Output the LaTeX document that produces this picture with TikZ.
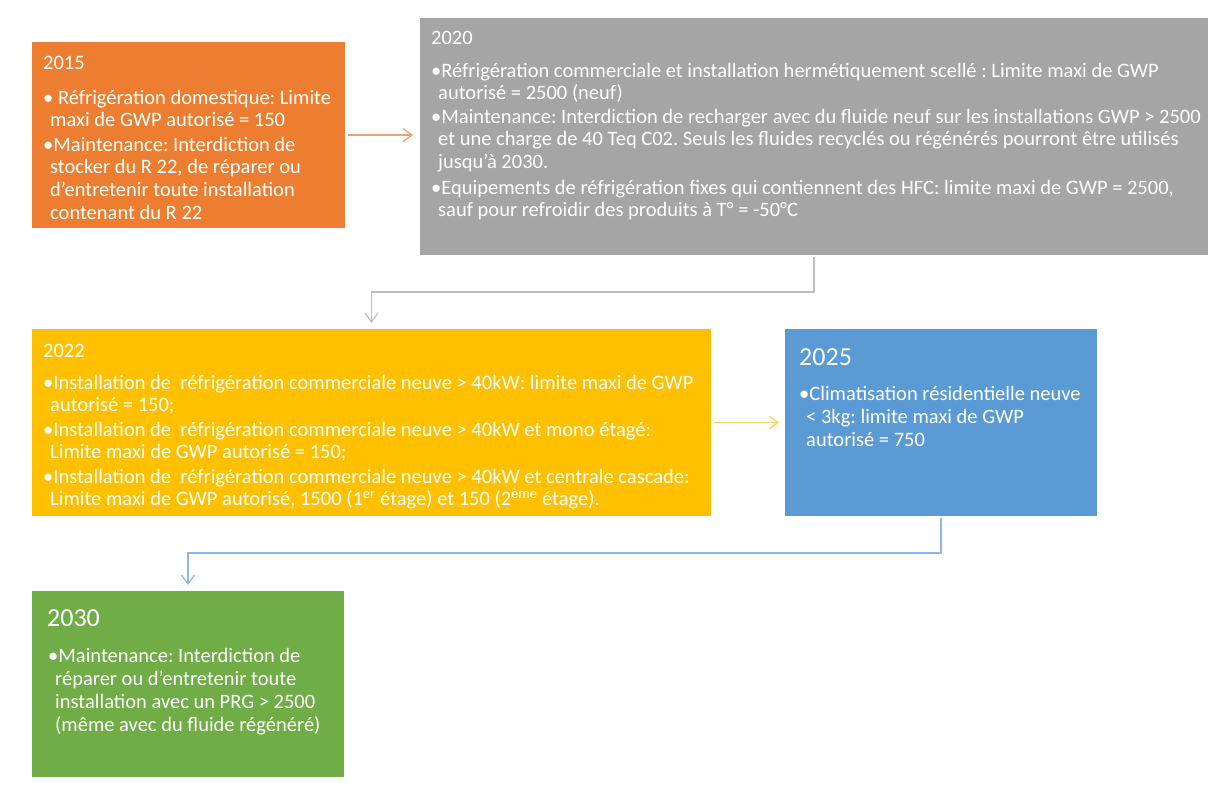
\documentclass[tikz,border=0pt]{standalone}
\usepackage{fontspec}
\setmainfont{Carlito}
\usetikzlibrary{arrows.meta}
\definecolor{corange}{HTML}{ED7D31}
\definecolor{cgray}{HTML}{A5A5A5}
\definecolor{cyellow}{HTML}{FFC000}
\definecolor{cblue}{HTML}{5B9BD5}
\definecolor{cgreen}{HTML}{70AD47}
\definecolor{lorange}{HTML}{F4A06A}
\definecolor{lgray}{HTML}{BDBDBD}
\definecolor{lyellow}{HTML}{FFD45C}
\definecolor{lblue}{HTML}{8DB8E2}
\newcommand\mybody{\fontsize{20.5}{22.7}\selectfont\frenchspacing}
\newcommand\mybodyb{\fontsize{20.5}{23}\selectfont\frenchspacing}
\newcommand\mytitle{\fontsize{26}{28}\selectfont}
\newcommand\tstrut{\rule{0pt}{20pt}}
\newcommand\bstrut{\rule{0pt}{26pt}}
\newcommand\cont{\hspace*{7pt}}
\begin{document}
\begin{tikzpicture}[x=1pt,y=-1pt,
  box/.style={draw=none, inner sep=0pt, outer sep=0pt, anchor=north west},
  txt/.style={anchor=north west, inner sep=0pt, align=left, text=white, font=\mybody},
  txtb/.style={txt, font=\mybodyb},
  bigttl/.style={anchor=north west, inner sep=0pt, text=white, font=\mytitle},
  conn/.style={line width=1.2pt, -{Straight Barb[length=9pt,width=13pt,line width=1.2pt]}}
]
\useasboundingbox[fill=white] (0,0) rectangle (1228,803);

% boxes
\node[box, fill=corange, minimum width=313pt, minimum height=186pt] (b2015) at (32,42) {};
\node[box, fill=cgray, minimum width=788pt, minimum height=237pt] (b2020) at (420,18) {};
\node[box, fill=cyellow, minimum width=679pt, minimum height=187pt] (b2022) at (32,329) {};
\node[box, fill=cblue, minimum width=312pt, minimum height=187pt] (b2025) at (785,329) {};
\node[box, fill=cgreen, minimum width=312pt, minimum height=186pt] (b2030) at (32,591) {};

% 2015
\node[txt] (t2015) at (43,49) {\tstrut 2015};
\node[txt] (p2015a) at (43,84) {\tstrut• Réfrigération domestique: Limite\\\cont maxi de GWP autorisé = 150};
\node[txt] (p2015b) at (43,131) {\tstrut•Maintenance: Interdiction de\\\cont stocker du R 22, de réparer ou\\\cont d’entretenir toute installation\\\cont contenant du R 22};

% 2020
\node[txt] (t2020) at (431,24) {\tstrut 2020};
\node[txt] (p2020a) at (431,57) {\tstrut•Réfrigération commerciale et installation hermétiquement scellé : Limite maxi de GWP\\\cont autorisé = 2500 (neuf)};
\node[txt] (p2020b) at (431,103) {\tstrut•Maintenance: Interdiction de recharger avec du fluide neuf sur les installations GWP > 2500\\\cont et une charge de 40 Teq C02. Seuls les fluides recyclés ou régénérés pourront être utilisés\\\cont jusqu’à 2030.};
\node[txt] (p2020c) at (431,174) {\tstrut•Equipements de réfrigération fixes qui contiennent des HFC: limite maxi de GWP = 2500,\\\cont sauf pour refroidir des produits à T° = -50°C};

% 2022
\node[txt] (t2022) at (43,337) {\tstrut 2022};
\node[txt] (p2022a) at (43,369) {\tstrut•Installation de~ réfrigération commerciale neuve > 40kW: limite maxi de GWP\\\cont autorisé = 150;};
\node[txt] (p2022b) at (43,416) {\tstrut•Installation de~ réfrigération commerciale neuve > 40kW et mono étagé:\\\cont Limite maxi de GWP autorisé = 150;};
\node[txt] (p2022c) at (43,463) {\tstrut•Installation de~ réfrigération commerciale neuve > 40kW et centrale cascade:\\\cont Limite maxi de GWP autorisé, 1500 (1\textsuperscript{er} étage) et 150 (2\textsuperscript{ème} étage).};

% 2025
\node[bigttl] (t2025) at (799,339) {\bstrut 2025};
\node[txtb] (p2025a) at (799,380) {\tstrut•Climatisation résidentielle neuve\\\cont < 3kg: limite maxi de GWP\\\cont autorisé = 750};

% 2030
\node[bigttl] (t2030) at (47,600) {\bstrut 2030};
\node[txtb] (p2030a) at (48,642) {\tstrut•Maintenance: Interdiction de\\\cont réparer ou d’entretenir toute\\\cont installation avec un PRG > 2500\\\cont (même avec du fluide régénéré)};

% connectors
\draw[conn, lorange] ([xshift=3pt]b2015.east) -- ([xshift=-7pt]b2015.east -| b2020.west);
\draw[conn, lgray] ([yshift=-2pt]b2020.south) -- ++(0,35) -| ([yshift=6pt]b2022.north);
\draw[conn, lyellow] ([xshift=3pt]b2022.east) -- ([xshift=-6pt]b2022.east -| b2025.west);
\draw[conn, lblue] ([yshift=-2pt]b2025.south) -- ++(0,35) -| ([yshift=6pt]b2030.north);
\end{tikzpicture}
\end{document}
